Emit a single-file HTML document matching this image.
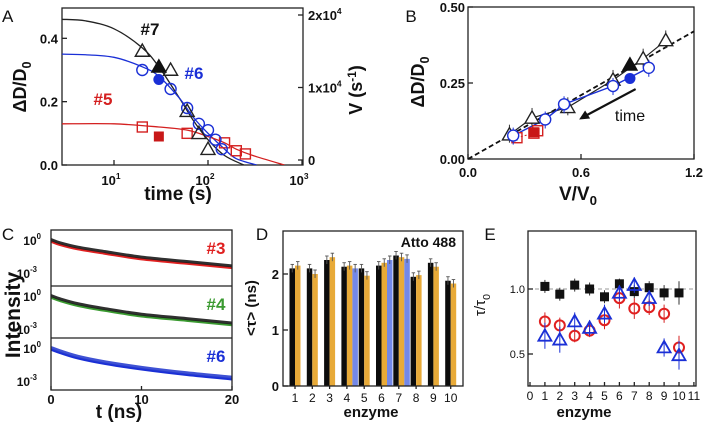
<!DOCTYPE html>
<html><head><meta charset="utf-8"><style>
html,body{margin:0;padding:0;background:#fff;}
svg{display:block;font-family:"Liberation Sans",Arial,sans-serif;}
</style></head><body>
<svg id="fig" width="712" height="423" viewBox="0 0 712 423">
<defs>
<clipPath id="clipA"><rect x="62" y="8" width="241" height="157"/></clipPath>
<clipPath id="clipC"><rect x="51" y="230" width="181" height="160"/></clipPath>
</defs>
</svg>
<script>
// ---------- Panel A data ----------
const aBlackCurveT=[2.8,5,10,20,30,50,70,100,150,240];
const aBlackCurveV=[0.46,0.455,0.43,0.37,0.31,0.21,0.14,0.08,0.03,0];
const aBlueCurveT=[2.8,5,10,20,30,50,70,100,150,200,330];
const aBlueCurveV=[0.35,0.348,0.34,0.31,0.28,0.21,0.15,0.10,0.05,0.02,0];
const aRedCurveT=[2.8,10,30,60,100,150,200,300,650];
const aRedCurveV=[0.13,0.13,0.12,0.11,0.09,0.07,0.05,0.03,0];
const aTriT=[20,40,60,80,100];
const aTriV=[0.36,0.30,0.17,0.10,0.05];
const aTriFilledT=[30];const aTriFilledV=[0.31];
const aCircT=[20,40,60,80,100,120,140];
const aCircV=[0.30,0.24,0.18,0.13,0.11,0.08,0.05];
const aCircFilledT=[30];const aCircFilledV=[0.27];
const aSqT=[20,60,150,200,250];
const aSqV=[0.12,0.10,0.07,0.045,0.035];
const aSqFilledT=[30];const aSqFilledV=[0.09];
const aYTicks=[0,0.2,0.4];const aYTickLabels=["0.0","0.2","0.4"];
const aXTicks=[1,2,3];
// ---------- Panel B data ----------
const bTriX=[0.22,0.34,0.53,0.77,0.93,1.05];
const bTriY=[0.08,0.135,0.17,0.26,0.33,0.39];
const bTriFilled=[0.86,0.31];
const bCircX=[0.24,0.41,0.51,0.77,0.96];
const bCircY=[0.077,0.13,0.18,0.24,0.30];
const bCircFilled=[0.86,0.265];
const bSqX=[0.26,0.35,0.37];
const bSqY=[0.07,0.085,0.093];
const bSqFilled=[0.35,0.088];
const bSlope=[0,0,1.2,0.42];
const bArrow=[0.89,0.23,0.59,0.13];
const bYTicks=[0,0.25,0.5];const bYTickLabels=["0.00","0.25","0.50"];
const bXTicks=[0,0.6,1.2];const bXTickLabels=["0.0","0.6","1.2"];
// ---------- Panel C data ----------
const cT=[0,1,3,6,10,15,20];
const c3Log=[0,-0.3,-0.7,-1.1,-1.6,-2.0,-2.4];
const c4Log=[0,-0.3,-0.75,-1.2,-1.7,-2.1,-2.5];
const c6Log=[0,-0.3,-0.8,-1.3,-1.8,-2.3,-2.7];
const cXTicks=[0,10,20];
// ---------- Panel D data ----------
const dEnz=[1,2,3,4,5,6,7,8,9,10];
const dBlack=[2.1,2.1,2.25,2.13,2.1,2.15,2.33,1.95,2.2,1.88];
const dOrange=[2.15,2.0,2.3,2.15,1.97,2.2,2.3,1.98,2.13,1.83];
const dBlue=[null,null,null,2.1,null,2.25,2.27,null,null,null];
const dYTicks=[0,1,2];
// ---------- Panel E data ----------
const eEnz=[1,2,3,4,5,6,7,8,9,10];
const eBlack=[1.02,0.96,1.03,1.0,0.94,1.04,0.98,1.01,0.97,0.97];
const eBlackErr=[0.05,0.05,0.05,0.05,0.05,0.04,0.05,0.05,0.06,0.09];
const eRed=[0.75,0.72,0.64,0.68,0.76,0.93,0.85,0.86,0.81,0.55];
const eRedErr=[0.07,0.06,0.05,0.05,0.07,0.08,0.08,0.06,0.07,0.09];
const eBlue=[0.64,0.61,0.75,0.70,0.81,0.97,1.03,0.93,0.55,0.49];
const eBlueErr=[0.1,0.1,0.07,0.06,0.07,0.06,0.06,0.06,0.07,0.11];
const eYTicks=[0.5,1.0];const eYTickLabels=["0.5","1.0"];
const eXTicks=[0,1,2,3,4,5,6,7,8,9,10,11];

const NS='http://www.w3.org/2000/svg';
const svg=document.getElementById('fig');
function mk(tag,attrs,nm,parent){
  const el=document.createElementNS(NS,tag);
  for(const k in attrs) el.setAttribute(k,attrs[k]);
  
  
  (parent||svg).appendChild(el);return el;
}
function txt(x,y,s,size,nm,opt){
  opt=opt||{};
  const a={x:x,y:y,'font-size':size,'font-weight':opt.w||'bold',fill:opt.fill||'#111','text-anchor':opt.anchor||'middle'};
  if(opt.rot) a.transform='rotate('+opt.rot+' '+x+' '+y+')';
  const t=mk('text',a,nm,opt.parent);
  t.textContent=s;return t;
}
function sup(t,s,nm,dy){
  const sp=mk('tspan',{'font-size':'0.65em',dy:dy||-6},nm,t);sp.textContent=s;return sp;
}
function sub(t,s,nm){
  const sp=mk('tspan',{'font-size':'0.7em',dy:5},nm,t);sp.textContent=s;return sp;
}
function ln(x1,y1,x2,y2,nm,stroke,w,extra){
  const a={x1:x1,y1:y1,x2:x2,y2:y2,stroke:stroke||'#222','stroke-width':w||1.3};
  if(extra) for(const k in extra) a[k]=extra[k];
  return mk('line',a,nm);
}
function tri(x,y,r,fill,stroke,nm,g){
  return mk('polygon',{points:(x)+','+(y-r)+' '+(x-r)+','+(y+r*0.75)+' '+(x+r)+','+(y+r*0.75),fill:fill,stroke:stroke,'stroke-width':1.4},nm,g);
}
function pathThrough(xs,ys){
  let d='M'+xs[0]+','+ys[0];
  for(let i=0;i<xs.length-1;i++){
    const x0=xs[Math.max(0,i-1)],y0=ys[Math.max(0,i-1)],x1=xs[i],y1=ys[i],x2=xs[i+1],y2=ys[i+1],x3=xs[Math.min(xs.length-1,i+2)],y3=ys[Math.min(xs.length-1,i+2)];
    d+=' C'+(x1+(x2-x0)/6)+','+(y1+(y2-y0)/6)+' '+(x2-(x3-x1)/6)+','+(y2-(y3-y1)/6)+' '+x2+','+y2;
  }
  return d;
}

// ===== Panel A =====
const xA=t=>114+(Math.log10(t)-1)*94;
const yA=v=>165-v*316.7;
const yAR=v=>160-v*7.25e-3;
txt(2,22,'A',17,'panel-a-letter',{anchor:'start',w:'normal'});
mk('rect',{x:62,y:8,width:241,height:157,fill:'none',stroke:'#222','stroke-width':1.3},'panel-a-frame');
aYTicks.forEach((v,i)=>{ln(62,yA(v),67,yA(v),'a-ytick');txt(58,yA(v)+5,aYTickLabels[i],13,'a-ytick-label',{anchor:'end'});});
aXTicks.forEach(p=>{const x=xA(Math.pow(10,p));ln(x,165,x,160,'a-xtick');const t=txt(x-3,185,'10',13,'a-xtick-label');sup(t,String(p),'a-xtick-exp');});
[0,1e4,2e4].forEach((v,i)=>{ln(303,yAR(v),298,yAR(v),'a-right-tick');const t=txt(308,yAR(v)+5,i==0?'0':(i==1?'1x10':'2x10'),13,'a-right-tick-label',{anchor:'start'});if(i>0)sup(t,'4','a-right-exp');});
{const t=txt(26,87,'ΔD/D',18,'a-y-axis-title',{rot:-90});sub(t,'0','a-y-sub');}
txt(178,200,'time (s)',19,'a-x-axis-title');
{const t=txt(362,90,'V (s',18,'a-right-axis-title',{rot:-90});sup(t,'-1','a-right-sup',-6);const e=mk('tspan',{dy:6},'a-right-close',t);e.textContent=')';}
const gA=mk('g',{'clip-path':'url(#clipA)'},'panel-a-plot');
mk('path',{d:pathThrough(aBlackCurveT.map(xA),aBlackCurveV.map(yA)),fill:'none',stroke:'#222','stroke-width':1.3},'a-fit-7',gA);
mk('path',{d:pathThrough(aBlueCurveT.map(xA),aBlueCurveV.map(yA)),fill:'none',stroke:'#1a2fd6','stroke-width':1.3},'a-fit-6',gA);
mk('path',{d:pathThrough(aRedCurveT.map(xA),aRedCurveV.map(yA)),fill:'none',stroke:'#d42020','stroke-width':1.3},'a-fit-5',gA);
aSqT.forEach((t,i)=>mk('rect',{x:xA(t)-5,y:yA(aSqV[i])-5,width:10,height:10,fill:'none',stroke:'#d42020','stroke-width':1.4},'a-square-5',gA));
aSqFilledT.forEach((t,i)=>mk('rect',{x:xA(t)-5,y:yA(aSqFilledV[i])-5,width:10,height:10,fill:'#c81818'},'a-square-5-filled',gA));
aCircT.forEach((t,i)=>mk('circle',{cx:xA(t),cy:yA(aCircV[i]),r:5.5,fill:'none',stroke:'#1a2fd6','stroke-width':1.4},'a-circle-6',gA));
aCircFilledT.forEach((t,i)=>mk('circle',{cx:xA(t),cy:yA(aCircFilledV[i]),r:5.5,fill:'#1a2fd6'},'a-circle-6-filled',gA));
aTriT.forEach((t,i)=>tri(xA(t),yA(aTriV[i]),7,'none','#222','a-triangle-7',gA));
aTriFilledT.forEach((t,i)=>tri(xA(t),yA(aTriFilledV[i]),7,'#111','#111','a-triangle-7-filled',gA));
txt(150,35,'#7',17,'a-label-7');
txt(194,79,'#6',17,'a-label-6',{fill:'#1a2fd6'});
txt(103,105,'#5',17,'a-label-5',{fill:'#d42020'});

// ===== Panel B =====
const xB=v=>468+v/1.2*226;
const yB=v=>159-v/0.5*152;
txt(411,22,'B',17,'panel-b-letter',{anchor:'middle',w:'normal'});
mk('rect',{x:468,y:7,width:226,height:152,fill:'none',stroke:'#222','stroke-width':1.3},'panel-b-frame');
bYTicks.forEach((v,i)=>{ln(468,yB(v),473,yB(v),'b-ytick');txt(465,yB(v)+5,bYTickLabels[i],13,'b-ytick-label',{anchor:'end'});});
bXTicks.forEach((v,i)=>{ln(xB(v),159,xB(v),154,'b-xtick');txt(xB(v),177,bXTickLabels[i],13,'b-xtick-label');});
{const t=txt(424,82,'ΔD/D',18,'b-y-axis-title',{rot:-90});sub(t,'0','b-y-sub');}
{const t=txt(578,200,'V/V',19,'b-x-axis-title');sub(t,'0','b-x-sub');}
ln(xB(bSlope[0]),yB(bSlope[1]),xB(bSlope[2]),yB(bSlope[3]),'b-slope-line','#111',1.8,{'stroke-dasharray':'5,3'});
mk('polyline',{points:bSqX.map((x,i)=>xB(x)+','+yB(bSqY[i])).join(' '),fill:'none',stroke:'#d42020','stroke-width':1,'stroke-dasharray':'2,2'},'b-line-5');
mk('polyline',{points:bTriX.map((x,i)=>xB(x)+','+yB(bTriY[i])).join(' '),fill:'none',stroke:'#222','stroke-width':1.2},'b-line-7');
mk('polyline',{points:bCircX.map((x,i)=>xB(x)+','+yB(bCircY[i])).join(' '),fill:'none',stroke:'#1a2fd6','stroke-width':1.4},'b-line-6');
bSqX.forEach((x,i)=>mk('rect',{x:xB(x)-5,y:yB(bSqY[i])-5,width:10,height:10,fill:'none',stroke:'#d42020','stroke-width':1.4},'b-square-5'));
mk('rect',{x:xB(bSqFilled[0])-5,y:yB(bSqFilled[1])-5,width:10,height:10,fill:'#c81818'},'b-square-5-filled');
bTriX.forEach((x,i)=>{ln(xB(x),yB(bTriY[i])-10,xB(x),yB(bTriY[i])+8,'b-errorbar-7','#333',1);tri(xB(x),yB(bTriY[i]),7,'#fff','#222','b-triangle-7');});
tri(xB(bTriFilled[0]),yB(bTriFilled[1]),7,'#111','#111','b-triangle-7-filled');
bCircX.forEach((x,i)=>{ln(xB(x),yB(bCircY[i])-8,xB(x),yB(bCircY[i])+9,'b-errorbar-6','#1a2fd6',1);mk('circle',{cx:xB(x),cy:yB(bCircY[i]),r:5.5,fill:'#fff',stroke:'#1a2fd6','stroke-width':1.4},'b-circle-6');});
mk('circle',{cx:xB(bCircFilled[0]),cy:yB(bCircFilled[1]),r:5.5,fill:'#1a2fd6'},'b-circle-6-filled');
ln(xB(bArrow[0]),yB(bArrow[1]),xB(bArrow[2])+7,yB(bArrow[3])-4,'b-arrow-shaft','#111',2.2);
{const x2=xB(bArrow[2]),y2=yB(bArrow[3]);mk('polygon',{points:x2+','+y2+' '+(x2+11)+','+(y2-1)+' '+(x2+6)+','+(y2-9),fill:'#111'},'b-arrow-head');}
txt(630,121,'time',16,'b-time-label',{w:'normal'});

// ===== Panel C =====
const xC=t=>51+t/20*181;
const cTops=[230,286,338];
const yC=(p,l)=>cTops[p]+10-l*11;
txt(8,240,'C',17,'panel-c-letter',{w:'normal'});
const cLogs=[c3Log,c4Log,c6Log];
const cCols=['#e02020','#3a9a30','#1a2fd6'];
const cLabels=['#3','#4','#6'];
const gC=mk('g',{'clip-path':'url(#clipC)'},'panel-c-plot');
cLogs.forEach((arr,p)=>{
  const xs=cT.map(xC),ys=arr.map(l=>yC(p,l));
  mk('path',{d:pathThrough(xs,ys.map(y=>y+1.5)),fill:'none',stroke:cCols[p],'stroke-width':2.5},'c-decay-fit',gC);
  mk('path',{d:pathThrough(xs,ys.map(y=>y-0.5)),fill:'none',stroke:p==2?'#2a3fcf':'#1a1a1a','stroke-width':3,'opacity':0.9},'c-decay-data',gC);
  txt(216,cTops[p]+24,cLabels[p],17,'c-label',{fill:cCols[p]});
  const t0=txt(47,yC(p,0)+5,'10',12,'c-ytick-label',{anchor:'end'});
  t0.setAttribute('dx','-6');sup(t0,'0','c-exp');
  const t3=txt(47,yC(p,-3)+5,'10',12,'c-ytick-label',{anchor:'end'});
  t3.setAttribute('dx','-10');sup(t3,'-3','c-exp');
});
mk('rect',{x:51,y:230,width:181,height:160,fill:'none',stroke:'#222','stroke-width':1.3},'panel-c-frame');
ln(51,286,232,286,'c-divider');ln(51,338,232,338,'c-divider');
cXTicks.forEach(v=>{ln(xC(v),390,xC(v),386,'c-xtick');txt(xC(v),404,String(v),13,'c-xtick-label');});
txt(119,418,'t (ns)',19,'c-x-axis-title');
txt(20,315,'Intensity',21,'c-y-axis-title',{rot:-90});

// ===== Panel D =====
const xD=e=>295+(e-1)*17.3;
const yD=v=>386-v*56;
txt(262,240,'D',17,'panel-d-letter',{w:'normal'});
const bw=5.5;
dEnz.forEach((e,i)=>{
  const c=xD(e);
  [[dBlack[i],'#0c0c0c',c-bw,'d-bar-black'],[dOrange[i],'#e8aa38',c,'d-bar-orange'],[dBlue[i],'#7388e8',c+bw,'d-bar-blue']].forEach(b=>{
    if(b[0]==null)return;
    mk('rect',{x:b[2],y:yD(b[0]),width:bw,height:386-yD(b[0]),fill:b[1]},b[3]);
    ln(b[2]+bw/2,yD(b[0])-4,b[2]+bw/2,yD(b[0])+4,'d-errorbar','#555',0.9);
    ln(b[2]+1,yD(b[0])-4,b[2]+bw-1,yD(b[0])-4,'d-errorcap','#555',0.9);
  });
  ln(c,386,c,389,'d-xtick');
  txt(c,402,String(e),12,'d-xtick-label',{w:'normal'});
});
mk('rect',{x:283,y:231,width:180,height:155,fill:'none',stroke:'#222','stroke-width':1.3},'panel-d-frame');
dYTicks.forEach(v=>{ln(283,yD(v),288,yD(v),'d-ytick');txt(279,yD(v)+5,String(v),13,'d-ytick-label',{anchor:'end'});});
txt(456,247,'Atto 488',14,'d-atto-label',{anchor:'end'});
txt(256,308,'<τ> (ns)',15,'d-y-axis-title',{rot:-90});
txt(371,417,'enzyme',15,'d-x-axis-title');

// ===== Panel E =====
const xE=e=>530+e*14.9;
const yE=v=>289-(v-1)*130;
txt(490,240,'E',17,'panel-e-letter',{w:'normal'});
ln(528,yE(1),696,yE(1),'e-reference-line','#999',1,{'stroke-dasharray':'4,3'});
eEnz.forEach((e,i)=>{
  const x=xE(e);
  ln(x,yE(eBlack[i]+eBlackErr[i]),x,yE(eBlack[i]-eBlackErr[i]),'e-errorbar-black','#333',1);
  mk('rect',{x:x-4.5,y:yE(eBlack[i])-4.5,width:9,height:9,fill:'#111'},'e-square-black');
  ln(x,yE(eRed[i]+eRedErr[i]),x,yE(eRed[i]-eRedErr[i]),'e-errorbar-red','#d42020',1);
  mk('circle',{cx:x,cy:yE(eRed[i]),r:5,fill:'none',stroke:'#e02020','stroke-width':2},'e-circle-red');
  ln(x,yE(eBlue[i]+eBlueErr[i]),x,yE(eBlue[i]-eBlueErr[i]),'e-errorbar-blue','#1a2fd6',1);
  tri(x,yE(eBlue[i]),6.5,'none','#1a2fd6','e-triangle-blue').setAttribute('stroke-width','1.8');
});
mk('rect',{x:528,y:231,width:168,height:155,fill:'none',stroke:'#222','stroke-width':1.3},'panel-e-frame');
eYTicks.forEach((v,i)=>{ln(528,yE(v),533,yE(v),'e-ytick');txt(525,yE(v)+4,eYTickLabels[i],11,'e-ytick-label',{anchor:'end',w:'normal'});});
eXTicks.forEach(v=>{ln(xE(v),386,xE(v),382,'e-xtick');txt(xE(v),400,String(v),12,'e-xtick-label',{w:'normal'});});
{const t=txt(485,305,'τ/τ',15,'e-y-axis-title',{rot:-90,w:'normal'});sub(t,'0','e-y-sub');}
txt(584,417,'enzyme',15,'e-x-axis-title');
</script>
</body></html>
